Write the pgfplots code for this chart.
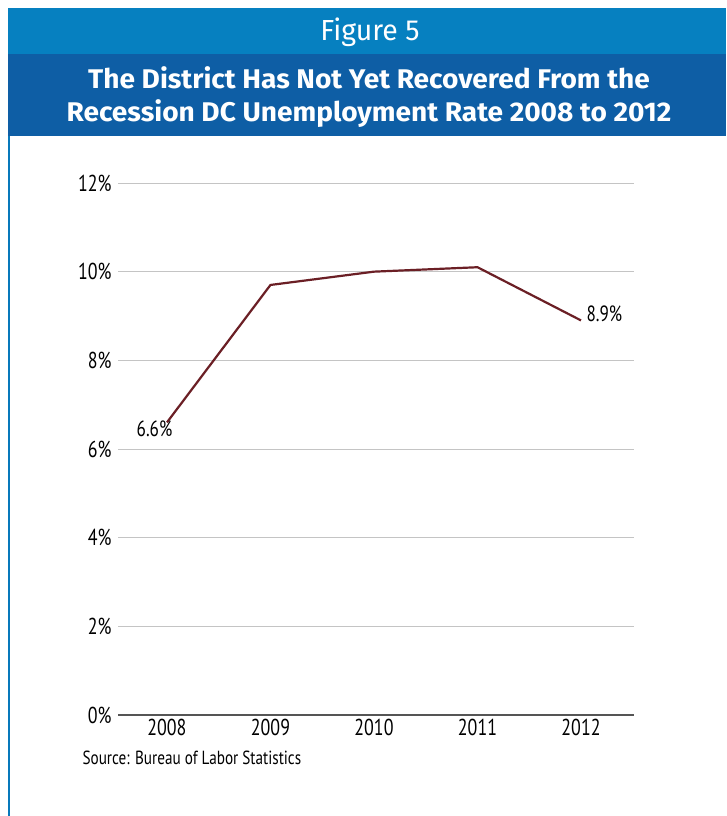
\documentclass[border=0pt]{standalone}
\usepackage{fontspec}
\usepackage{pgfplots}
\pgfplotsset{compat=1.18}
\setmainfont{PT Sans}[FakeStretch=0.78]
\newfontfamily\titlefont{Fira Sans}[FakeStretch=1.04]
\newfontfamily\figfont{Fira Sans}[FakeStretch=0.98]
\newfontfamily\srcfont{PT Sans}[FakeStretch=0.8]
\definecolor{lightblue}{HTML}{0680C0}
\definecolor{darkblue}{HTML}{0E5EA5}
\definecolor{maroon}{HTML}{6B1F25}
\definecolor{gridgray}{HTML}{C4C4C4}
\definecolor{axisgray}{HTML}{555555}
\begin{document}
\begin{tikzpicture}[x=1pt,y=1pt]
\path[use as bounding box,fill=white] (0,0) rectangle (726,816);
\fill[lightblue] (8,762) rectangle (726,808);
\fill[darkblue] (8,680) rectangle (726,762);
\draw[lightblue!80!darkblue,line width=2.2pt] (9,0) -- (9,680);
\node[text=white,font=\figfont\fontsize{29}{32}\selectfont] at (370,784) {Figure 5};
\node[text=white,font=\titlefont\bfseries\fontsize{27}{30}\selectfont] at (369,738) {The District Has Not Yet Recovered From the};
\node[text=white,font=\titlefont\bfseries\fontsize{27}{30}\selectfont] at (369,702) {Recession DC Unemployment Rate 2008 to 2012};
\begin{axis}[
  at={(118pt,101pt)}, anchor=south west,
  scale only axis, width=516pt, height=532pt,
  xmin=2007.527, xmax=2012.512, ymin=0, ymax=12,
  axis line style={draw=none},
  major tick length=0pt,
  xtick={2008,2009,2010,2011,2012},
  xticklabels={2008,2009,2010,2011,2012},
  ytick={2,4,6,8,10,12},
  yticklabels={2\%,4\%,6\%,8\%,10\%,12\%},
  extra y ticks={0},
  extra y tick labels={0\%},
  extra y tick style={grid style={draw=axisgray,line width=2pt}},
  ymajorgrids,
  grid style={draw=gridgray,line width=0.9pt},
  tick label style={font=\fontsize{23}{26}\selectfont, text=black},
  yticklabel style={xshift=-3pt},
  xticklabel style={yshift=-1pt},
  clip=false,
]
\addplot[maroon, line width=2.2pt] coordinates {(2008,6.6) (2009,9.7) (2010,10.0) (2011,10.1) (2012,8.9)};
\node[anchor=center,font=\fontsize{22}{24}\selectfont,text=black] at (axis cs:2007.88,6.46) {6.6\%};
\node[anchor=west,font=\fontsize{22}{24}\selectfont,text=black] at (axis cs:2012.02,9.05) {8.9\%};
\end{axis}
\node[anchor=west,font=\srcfont\fontsize{19}{22}\selectfont,text=black] at (79,58) {Source: Bureau of Labor Statistics};
\end{tikzpicture}
\end{document}
